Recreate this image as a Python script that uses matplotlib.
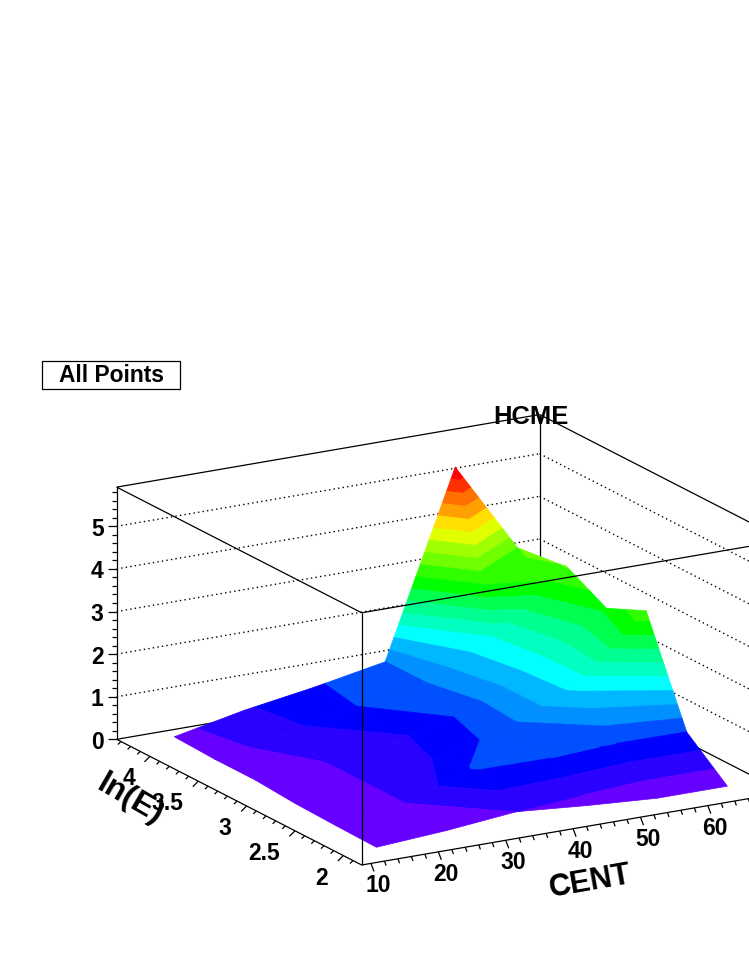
import numpy as np
import matplotlib
matplotlib.use("Agg")
import matplotlib.pyplot as plt
from matplotlib.patches import Rectangle
from mpl_toolkits.mplot3d.art3d import Poly3DCollection, Line3DCollection

# surface values, rows go up in ln(E), columns go up in CENT
cent_nodes = [14.1, 24.5, 34.9, 45.4, 55.8, 66.2]
lne_nodes = [2.04, 2.46, 2.88, 3.29, 3.71, 4.13]
hcme_row0 = [0.00, 0.11, 0.27, 0.13, 0.02, 0.02]
hcme_row1 = [0.02, 0.27, 0.85, 0.88, 0.78, 0.80]
hcme_row2 = [0.05, 0.27, 0.55, 0.96, 1.71, 3.16]
hcme_row3 = [0.12, 0.27, 0.45, 0.88, 1.80, 2.74]
hcme_row4 = [0.12, 0.43, 0.80, 1.07, 1.92, 3.25]
hcme_row5 = [0.16, 0.50, 0.76, 1.07, 5.36, 2.95]

band_colors = ["#6600ff", "#2a00ff", "#0000ff", "#0050ff", "#0090ff", "#00b8ff",
               "#00ffff", "#00ffc0", "#00ff90", "#00ff50", "#00ff00", "#30ff00",
               "#70ff00", "#a0ff00", "#e0ff00", "#ffe000", "#ffa000", "#ff7000",
               "#ff3000", "#ff0000"]

cent_major = [10, 20, 30, 40, 50, 60]
lne_major = [2, 2.5, 3, 3.5, 4]
lne_labels = ["2", "2.5", "3", "3.5", "4"]
z_major = [0, 1, 2, 3, 4, 5]

xmin, xmax = 8.62, 71.4
ymin, ymax = 1.81, 4.344
zmin, zmax = 0, 5.92

W, H = 749, 969
PX_X, PX_Y = 6.737, 96.7   # pixels per unit along the base, horizontally
PY_X, PY_Y, PY_Z = 1.156, 49.6, 42.6
FX, FY = 361.7, 865.0      # front bottom corner of the box, in pixels

plt.rcParams["font.family"] = ["Liberation Sans", "DejaVu Sans"]
fig = plt.figure(figsize=(W / 100, H / 100), dpi=100, facecolor="white")
ax = fig.add_axes([0, 0, 1, 1], projection="3d", computed_zorder=False)
ax.set_axis_off()
ax.apply_aspect = lambda position=None: None
ax.viewLim.intervalx = (0, 1)
ax.viewLim.intervaly = (0, 1)

# oblique projection of the ROOT lego box, data -> figure fraction
M = np.array([
    [PX_X / W, -PX_Y / W, 0, (FX - xmin * PX_X + ymin * PX_Y) / W],
    [PY_X / H, PY_Y / H, PY_Z / H, (H - FY - xmin * PY_X - ymin * PY_Y) / H],
    [1 / (xmax - xmin), 1 / (ymax - ymin), -0.002, 0],
    [0, 0, 0, 1.0]])
ax.get_proj = lambda: M


def shift(dx_px, dy_px):
    # data offset on the base plane for a shift in screen pixels (y down)
    a = np.array([[PX_X, -PX_Y], [-PY_X, -PY_Y]])
    return np.linalg.solve(a, [dx_px, dy_px])


def label(x, y, z, s, ha):
    # tick label placed through the same projection
    p = M @ np.array([x, y, z, 1.0])
    fig.text(p[0], p[1], s, fontsize=16.5, fontweight="bold", ha=ha, va="center_baseline")


def clip(poly, level, keep_above):
    out = []
    for k in range(len(poly)):
        p, q = poly[k], poly[(k + 1) % len(poly)]
        p_in = p[2] >= level if keep_above else p[2] <= level
        q_in = q[2] >= level if keep_above else q[2] <= level
        if p_in:
            out.append(p)
        if p_in != q_in:
            t = (level - p[2]) / (q[2] - p[2])
            out.append(tuple(p[n] + t * (q[n] - p[n]) for n in range(3)))
    return out


hcme = np.array([hcme_row0, hcme_row1, hcme_row2, hcme_row3, hcme_row4, hcme_row5])
levels = np.linspace(0, hcme.max(), len(band_colors) + 1)

polys, cols = [], []
for j in range(len(lne_nodes) - 1):
    for i in range(len(cent_nodes) - 1):
        quad = [(cent_nodes[i], lne_nodes[j], hcme[j, i]),
                (cent_nodes[i + 1], lne_nodes[j], hcme[j, i + 1]),
                (cent_nodes[i + 1], lne_nodes[j + 1], hcme[j + 1, i + 1]),
                (cent_nodes[i], lne_nodes[j + 1], hcme[j + 1, i])]
        for b, c in enumerate(band_colors):
            part = clip(quad, levels[b], True)
            if part:
                part = clip(part, levels[b + 1], False)
            if len(part) >= 3:
                polys.append(part)
                cols.append(c)

surf = Poly3DCollection(polys, facecolors=cols, edgecolors=cols, linewidths=0.5, zorder=2)
ax.add_collection3d(surf)

# walls behind the surface
grid_segs = []
for z in z_major[1:]:
    grid_segs.append([(xmin, ymax, z), (xmax, ymax, z)])
    grid_segs.append([(xmax, ymax, z), (xmax, ymin, z)])
ax.add_collection3d(Line3DCollection(grid_segs, colors="black", linewidths=1.0,
                                     linestyles=[(0, (1, 2.3))], zorder=1))

back_segs = [[(xmin, ymax, 0), (xmax, ymax, 0)],
             [(xmax, ymax, 0), (xmax, ymin, 0)],
             [(xmax, ymax, 0), (xmax, ymax, zmax)],
             [(xmin, ymax, zmax), (xmax, ymax, zmax)],
             [(xmax, ymax, zmax), (xmax, ymin, zmax)]]
ax.add_collection3d(Line3DCollection(back_segs, colors="black", linewidths=0.9, zorder=1))

# front edges go over the surface
front_segs = [[(xmin, ymin, 0), (xmin, ymin, zmax)],
              [(xmin, ymin, zmax), (xmin, ymax, zmax)],
              [(xmin, ymin, zmax), (xmax, ymin, zmax)],
              [(xmin, ymax, 0), (xmin, ymax, zmax)],
              [(xmin, ymin, 0), (xmax, ymin, 0)],
              [(xmin, ymin, 0), (xmin, ymax, 0)]]

# z axis ticks
for z in np.arange(0, 5.81, 0.2):
    major = abs(z - round(z)) < 1e-6
    d = shift(-9 if major else -5, 0)
    front_segs.append([(xmin, ymax, z), (xmin + d[0], ymax + d[1], z)])
for z in z_major:
    d = shift(-13, 0.5)
    label(xmin + d[0], ymax + d[1], z, str(z), "right")

# CENT axis
for c in np.arange(10, 71, 2):
    major = c % 10 == 0
    d = shift(3 if major else 1.6, 8 if major else 4.5)
    front_segs.append([(c, ymin, 0), (c + d[0], ymin + d[1], 0)])
for c in cent_major:
    d = shift(7.2, 20)
    label(c + d[0], ymin + d[1], 0, str(c), "center")

# ln(E) axis
for y in np.arange(1.9, 4.31, 0.1):
    major = abs(y * 2 - round(y * 2)) < 1e-6
    d = shift(-5.5 if major else -3, 5.5 if major else 3)
    front_segs.append([(xmin, y, 0), (xmin + d[0], y + d[1], 0)])
for y, s in zip(lne_major, lne_labels):
    d = shift(-15, 20)
    label(xmin + d[0], y + d[1], 0, s, "right")

ax.add_collection3d(Line3DCollection(front_segs, colors="black", linewidths=0.9, zorder=3))

fig.text(590 / W, 1 - 882 / H, "CENT", fontsize=22, fontweight="bold", rotation=10,
         ha="center", va="center")
fig.text(130 / W, 1 - 800 / H, "ln(E)", fontsize=23, fontweight="bold", rotation=-30,
         ha="center", va="center")
fig.text(531 / W, 1 - 416.5 / H, "HCME", fontsize=18.4, fontweight="bold",
         ha="center", va="center", zorder=5)

fig.add_artist(Rectangle((42.3 / W, 1 - 389 / H), 138 / W, 28.5 / H, transform=fig.transFigure,
                         fill=False, edgecolor="black", lw=0.9))
fig.text(111 / W, 1 - 376 / H, "All Points", fontsize=16.4, fontweight="bold",
         ha="center", va="center")

fig.savefig("out.png", dpi=100)
